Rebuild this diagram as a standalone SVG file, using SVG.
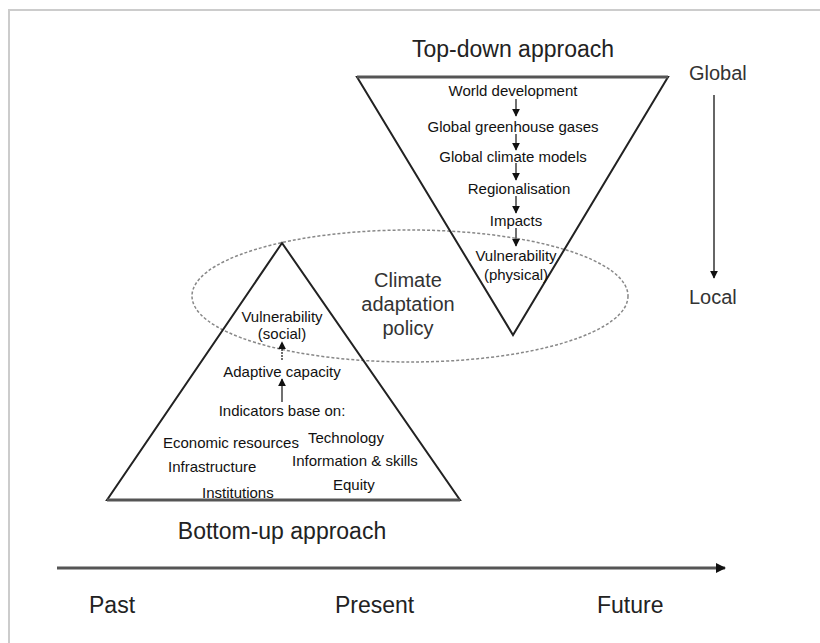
<svg xmlns="http://www.w3.org/2000/svg" width="820" height="643" viewBox="0 0 820 643">
<defs>
<style>
text{font-family:"Liberation Sans",Arial,sans-serif;fill:#1a1a1a}
.big{font-size:23px;fill:#222}
.mid{font-size:20px;fill:#333}
.sm{font-size:15px;fill:#111}
.c{text-anchor:middle}
.tri{fill:none;stroke:#222;stroke-width:2;stroke-linejoin:miter}
.edge{stroke:#555;stroke-width:3;fill:none}
.flow{stroke:#111;stroke-width:1.2;fill:none}
</style>
<marker id="ah" viewBox="0 0 10 10" refX="9" refY="5" markerWidth="8" markerHeight="8" markerUnits="userSpaceOnUse" orient="auto">
<path d="M0,0 L10,5 L0,10 Z" fill="#111"/>
</marker>
<marker id="ahb" viewBox="0 0 10 10" refX="9" refY="5" markerWidth="10" markerHeight="10" markerUnits="userSpaceOnUse" orient="auto">
<path d="M0,0 L10,5 L0,10 Z" fill="#111"/>
</marker>
</defs>
<rect x="0" y="0" width="820" height="643" fill="#fff"/>
<g id="frame">
<path d="M9,643 L9,10 L820,10" fill="none" stroke="#ccc" stroke-width="2"/>
</g>

<g id="policy-ellipse">
<ellipse cx="410" cy="296" rx="218" ry="66" fill="none" stroke="#888" stroke-width="1.5" stroke-dasharray="3 2"/>
<text class="mid c" x="408" y="287">Climate</text>
<text class="mid c" x="408" y="311">adaptation</text>
<text class="mid c" x="408" y="335">policy</text>
</g>

<g id="top-down">
<polygon class="tri" points="357,77 668,77 513,335"/>
<line class="edge" x1="357" y1="77" x2="668" y2="77"/>
<text class="big c" x="513" y="57">Top-down approach</text>
<text class="sm c" x="513" y="96">World development</text>
<text class="sm c" x="513" y="132">Global greenhouse gases</text>
<text class="sm c" x="513" y="162">Global climate models</text>
<text class="sm c" x="519" y="194">Regionalisation</text>
<text class="sm c" x="516" y="226">Impacts</text>
<text class="sm c" x="516" y="261">Vulnerability</text>
<text class="sm c" x="516" y="280">(physical)</text>
</g>

<g id="bottom-up">
<polygon class="tri" points="282,243 107,500 460,500"/>
<line class="edge" x1="107" y1="500" x2="460" y2="500"/>
<text class="big c" x="282" y="539">Bottom-up approach</text>
<text class="sm c" x="282" y="322">Vulnerability</text>
<text class="sm c" x="282" y="339">(social)</text>
<text class="sm c" x="282" y="377">Adaptive capacity</text>
<text class="sm c" x="282" y="416">Indicators base on:</text>
<text class="sm" x="163" y="448">Economic resources</text>
<text class="sm" x="308" y="443">Technology</text>
<text class="sm" x="168" y="472">Infrastructure</text>
<text class="sm" x="292" y="466">Information &amp; skills</text>
<text class="sm" x="333" y="490">Equity</text>
<text class="sm" x="202" y="498">Institutions</text>
</g>

<g id="scale-labels">
<text class="mid" x="689" y="80">Global</text>
<text class="mid" x="689" y="304">Local</text>
<text class="big" x="89" y="613">Past</text>
<text class="big" x="335" y="613">Present</text>
<text class="big" x="597" y="613">Future</text>
</g>

<g id="connectors">
<line class="flow" x1="516" y1="99" x2="516" y2="116" marker-end="url(#ah)"/>
<line class="flow" x1="516" y1="134" x2="516" y2="150" marker-end="url(#ah)"/>
<line class="flow" x1="516" y1="163" x2="516" y2="180" marker-end="url(#ah)"/>
<line class="flow" x1="516" y1="196" x2="516" y2="213" marker-end="url(#ah)"/>
<line class="flow" x1="516" y1="228" x2="516" y2="246" marker-end="url(#ah)"/>
<line class="flow" x1="282" y1="360" x2="282" y2="342" marker-end="url(#ah)" stroke-dasharray="2 1"/>
<line class="flow" x1="282" y1="402" x2="282" y2="379" marker-end="url(#ah)"/>
<line x1="714" y1="95" x2="714" y2="278" stroke="#666" stroke-width="2" marker-end="url(#ah)"/>
<line x1="57" y1="568" x2="725" y2="568" stroke="#555" stroke-width="3" marker-end="url(#ahb)"/>
</g>
</svg>
